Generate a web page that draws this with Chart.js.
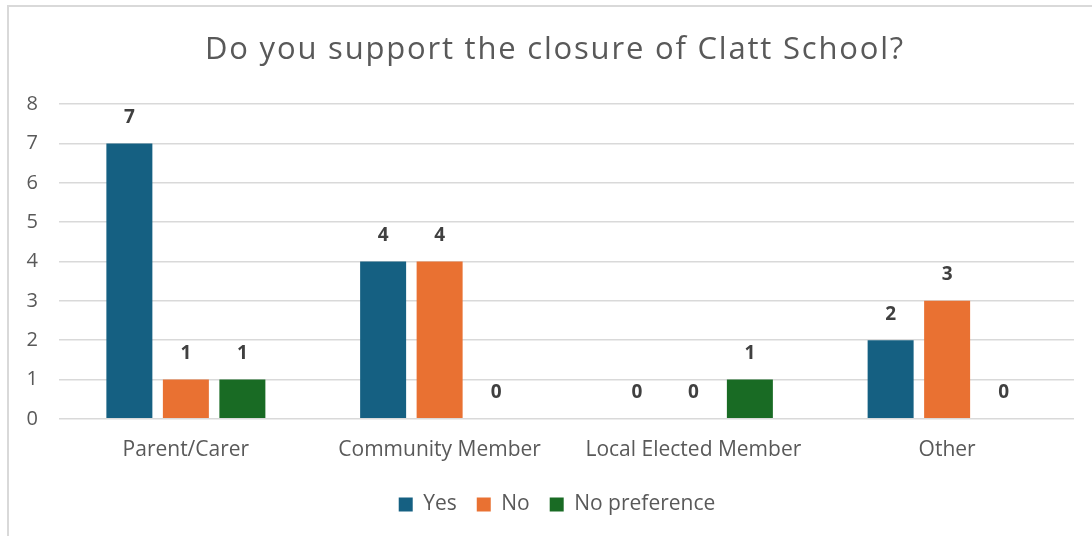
<!DOCTYPE html>
<html>
<head>
<meta charset="utf-8">
<script src="https://cdn.jsdelivr.net/npm/chart.js@4/dist/chart.umd.min.js"></script>
<style>
    html, body { margin: 0; padding: 0; background: #ffffff; }
    #wrap { position: relative; width: 1092px; height: 536px; }
</style>
</head>
<body>
<div id="wrap"><canvas id="chart" width="1092" height="536"></canvas></div>
<script>
    "use strict";

    const categories = ['Parent/Carer', 'Community Member', 'Local Elected Member', 'Other'];
    const yesValues = [7, 4, 0, 2];
    const noValues = [1, 4, 0, 3];
    const noPrefValues = [1, 0, 1, 0];
    const seriesNames = ['Yes', 'No', 'No preference'];
    const seriesColors = ['#156082', '#E97132', '#196B24'];
    const yTicks = [0, 1, 2, 3, 4, 5, 6, 7, 8];

    const FONT = "'Open Sans', 'Liberation Sans', sans-serif";
    const TEXT_GREY = '#595959';

    // frame around the chart, like the Excel chart area
    const framePlugin = {
        id: 'frame',
        beforeDraw(chart) {
            const ctx = chart.ctx;
            ctx.save();
            ctx.strokeStyle = '#d9d9d9';
            ctx.lineWidth = 2;
            ctx.beginPath();
            ctx.moveTo(8, chart.height + 5);
            ctx.lineTo(8, 6);
            ctx.lineTo(chart.width + 5, 6);
            ctx.stroke();
            ctx.restore();
        }
    };

    // value labels above every bar (zero included)
    const valueLabels = {
        id: 'valueLabels',
        afterDatasetsDraw(chart) {
            const ctx = chart.ctx;
            ctx.save();
            ctx.letterSpacing = '0px';
            ctx.font = 'bold 19px ' + FONT;
            ctx.fillStyle = '#404040';
            ctx.textAlign = 'center';
            ctx.textBaseline = 'middle';
            chart.data.datasets.forEach((ds, i) => {
                const meta = chart.getDatasetMeta(i);
                meta.data.forEach((bar, j) => {
                    ctx.fillText(String(ds.data[j]), bar.x, bar.y - 26);
                });
            });
            ctx.restore();
        }
    };

    const datasets = [yesValues, noValues, noPrefValues].map((vals, i) => ({
        label: seriesNames[i],
        data: vals,
        backgroundColor: seriesColors[i],
        borderWidth: 0,
        categoryPercentage: 0.668,
        barPercentage: 0.814,
    }));

    const canvas = document.getElementById('chart');
    const ctx = canvas.getContext('2d');
    // the Excel text is a bit more spread out than Open Sans
    ctx.letterSpacing = '1.6px';

    const chart = new Chart(ctx, {
        type: 'bar',
        data: { labels: categories, datasets: datasets },
        options: {
            responsive: false,
            animation: false,
            layout: { padding: { left: 20, right: 18, top: 6, bottom: 11 } },
            plugins: {
                title: {
                    display: true,
                    text: 'Do you support the closure of Clatt School?',
                    color: TEXT_GREY,
                    font: { family: FONT, size: 31, weight: 'normal' },
                    padding: { top: 26, bottom: 35 },
                },
                legend: {
                    position: 'bottom',
                    labels: {
                        color: TEXT_GREY,
                        font: { family: FONT, size: 21 },
                        boxWidth: 14,
                        boxHeight: 14,
                        padding: 20,
                    },
                },
                tooltip: { enabled: false },
            },
            scales: {
                x: {
                    grid: { display: false },
                    border: { display: false },
                    ticks: {
                        color: TEXT_GREY,
                        font: { family: FONT, size: 21 },
                        padding: 11,
                    },
                },
                y: {
                    min: 0,
                    max: 8,
                    afterFit(scale) { scale.width = 39; },
                    afterBuildTicks(scale) { scale.ticks = yTicks.map(v => ({ value: v })); },
                    grid: { color: '#d9d9d9', lineWidth: 1.5, drawTicks: false },
                    border: { display: false },
                    ticks: {
                        color: TEXT_GREY,
                        font: { family: FONT, size: 20 },
                        padding: 21,
                    },
                },
            },
        },
        plugins: [framePlugin, valueLabels],
    });

    // title: wider spacing and nudged right, as in the original
    const titleBox = chart.titleBlock;
    if (titleBox) {
        const drawTitle = titleBox.draw.bind(titleBox);
        titleBox.draw = function () {
            ctx.save();
            ctx.letterSpacing = '1.8px';
            ctx.translate(8, 0);
            drawTitle();
            ctx.restore();
        };
    }
    const legendBox = chart.legend;
    if (legendBox) {
        const drawLegend = legendBox.draw.bind(legendBox);
        legendBox.draw = function () {
            ctx.save();
            ctx.translate(10, 0);
            drawLegend();
            ctx.restore();
        };
    }
    chart.draw();
</script>
</body>
</html>
